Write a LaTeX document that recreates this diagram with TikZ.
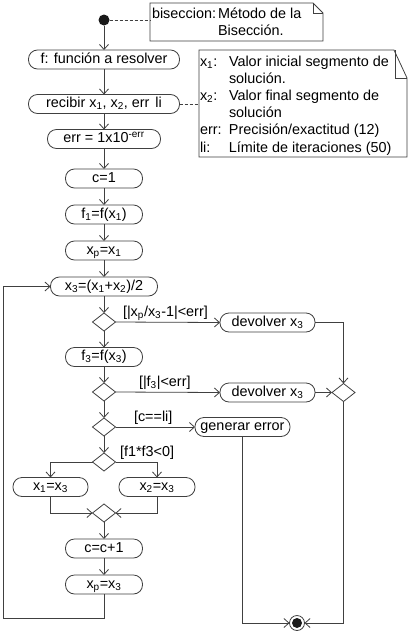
\documentclass[tikz,border=0pt]{standalone}
\usepackage{fontspec}
\setmainfont{Liberation Sans}
\usetikzlibrary{arrows.meta,shapes.geometric}
\definecolor{linec}{HTML}{404040}
\begin{document}
\begin{tikzpicture}[x=1pt,y=-1pt,
  font=\fontsize{14.4}{17.2}\selectfont,
  every node/.style={inner sep=0pt, outer sep=0pt},
  act/.style={draw=linec, line width=0.8pt, rounded corners=9pt, fill=white,
    minimum height=19pt, text height=10pt, text depth=3pt},
  dec/.style={diamond, draw=linec, line width=0.8pt, fill=white,
    minimum width=23pt, minimum height=18pt},
  arr/.style={draw=linec, line width=0.8pt, -{Straight Barb[length=5pt,width=9pt]}},
  link/.style={draw=linec, line width=0.8pt},
  notelink/.style={draw=linec, line width=0.8pt, dash pattern=on 3pt off 2pt},
  noteline/.style={draw=linec, line width=0.8pt, line join=miter},
  lbl/.style={anchor=base west},
  notetext/.style={anchor=base west}
]
\useasboundingbox[fill=white] (0,0) rectangle (409,632);

% start
\node[circle, fill=black!90, minimum size=11pt] (start) at (104,20) {};

% note 1
\node[minimum width=173pt, minimum height=38pt] (note1) at (236.5,22) {};
\draw[noteline] (note1.south west) -- (note1.north west) -- ([xshift=-10pt]note1.north east)
  -- ([yshift=-10pt]note1.north east) -- (note1.south east) -- cycle;
\draw[noteline] ([xshift=-10pt]note1.north east) -- ([xshift=-10pt,yshift=-10pt]note1.north east)
  -- ([yshift=-10pt]note1.north east);
\node[notetext] (note1txt) at (152,18)
  {\begin{tabular}[t]{@{}l@{\hspace{2pt}}l@{}}biseccion: & Método de la\\ & Bisección.\end{tabular}};

% note 2
\node[minimum width=208pt, minimum height=107pt] (note2) at (303,103.5) {};
\draw[noteline] (note2.south west) -- (note2.north west) -- ([xshift=-13pt]note2.north east)
  -- ([yshift=-28pt]note2.north east) -- (note2.south east) -- cycle;
\draw[noteline] ([xshift=-12pt]note2.north east) -- ([xshift=-12pt,yshift=-28pt]note2.north east)
  -- ([yshift=-28pt]note2.north east);
\node[notetext] (note2txt) at (200,66)
  {\begin{tabular}[t]{@{}l@{}l@{}}
   \makebox[29pt][l]{x\textsubscript{1}:} & Valor inicial segmento de\\
   & solución.\\
   \makebox[29pt][l]{x\textsubscript{2}:} & Valor final segmento de\\
   & solución\\
   \makebox[29pt][l]{err:} & Precisión/exactitud (12)\\
   \makebox[29pt][l]{li:} & Límite de iteraciones (50)
   \end{tabular}};

% main chain
\node[act, minimum width=151pt] (b1) at (104,59.5) {f: función a resolver};
\node[act, minimum width=151pt] (b2) at (104,104) {recibir x\textsubscript{1}, x\textsubscript{2}, err\hspace{6pt}li};
\node[act, minimum width=113pt] (b3) at (104,139) {err = 1x10\textsuperscript{-err}};
\node[act, minimum width=77pt] (b4) at (104,178.5) {c=1};
\node[act, minimum width=77pt] (b5) at (104,214.5) {f\textsubscript{1}=f(x\textsubscript{1})};
\node[act, minimum width=77pt] (b6) at (104,250.5) {x\textsubscript{p}=x\textsubscript{1}};
\node[act, minimum width=107pt] (b7) at (104,286.5) {x\textsubscript{3}=(x\textsubscript{1}+x\textsubscript{2})/2};
\node[dec] (d1) at (104,322) {};
\node[act, minimum width=95pt] (r1) at (267.5,322.5) {devolver x\textsubscript{3}};
\node[act, minimum width=77pt] (b8) at (104,357) {f\textsubscript{3}=f(x\textsubscript{3})};
\node[dec] (d2) at (104,392) {};
\node[act, minimum width=95pt] (r2) at (267.5,392.5) {devolver x\textsubscript{3}};
\node[dec] (m1) at (343.5,392.5) {};
\node[dec] (d3) at (104,427) {};
\node[act, minimum width=95pt] (r3) at (242.5,427) {generar error};
\node[dec] (d4) at (104,462) {};
\node[act, minimum width=75pt] (l1) at (50.5,487) {x\textsubscript{1}=x\textsubscript{3}};
\node[act, minimum width=76pt] (l2) at (157,487) {x\textsubscript{2}=x\textsubscript{3}};
\node[dec] (m2) at (104,513) {};
\node[act, minimum width=77pt] (b9) at (104,548.5) {c=c+1};
\node[act, minimum width=77pt] (b10) at (104,584.5) {x\textsubscript{p}=x\textsubscript{3}};
\node[circle, draw=linec, line width=0.8pt, fill=white, minimum size=15pt,
  path picture={\fill[black!90] (path picture bounding box.center) circle (5pt);}] (end) at (297,623) {};

\coordinate (loopc) at (3,618);

% labels
\node[lbl] (lab1) at (123,316) {[|x\textsubscript{p}/x\textsubscript{3}-1|<err]};
\node[lbl] (lab2) at (139,386) {[|f\textsubscript{3}|<err]};
\node[lbl] (lab3) at (134,421) {[c==li]};
\node[lbl] (lab4) at (120,456) {[f1*f3<0]};

% connectors
\draw[notelink] (start) -- (start -| note1.west);
\draw[notelink] (b2.east) -- (b2.east -| note2.west);
\draw[arr] (start) -- (b1);
\draw[arr] (b1) -- (b2);
\draw[arr] (b2) -- (b3);
\draw[arr] (b3) -- (b4);
\draw[arr] (b4) -- (b5);
\draw[arr] (b5) -- (b6);
\draw[arr] (b6) -- (b7);
\draw[arr] (b7) -- (d1);
\draw[arr] (d1.east) -- (r1.west);
\draw[arr] (r1.east) -| (m1.north);
\draw[arr] (d1.south) -- (b8.north);
\draw[arr] (b8) -- (d2);
\draw[arr] (d2.east) -- (r2.west);
\draw[arr] (r2.east) -- (m1.west);
\draw[arr] (d2.south) -- (d3.north);
\draw[arr] (d3.east) -- (r3.west);
\draw[arr] (d3.south) -- (d4.north);
\draw[arr] (d4.west) -| (l1.north);
\draw[arr] (d4.east) -| (l2.north);
\draw[arr] (l1.south) |- (m2.west);
\draw[arr] (l2.south) |- (m2.east);
\draw[arr] (m2.south) -- (b9.north);
\draw[arr] (b9) -- (b10);
\draw[arr] (b10.south) |- (loopc) |- (b7.west);
\draw[arr] (r3.south) |- (end.west);
\draw[arr] (m1.south) |- (end.east);
\end{tikzpicture}
\end{document}
